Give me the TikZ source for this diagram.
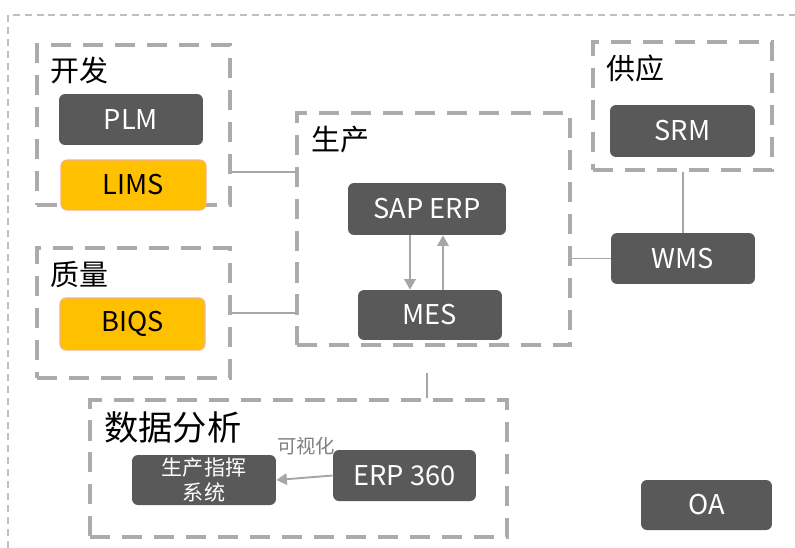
\documentclass[tikz,border=0pt]{standalone}
\usepackage{fontspec}
\setmainfont{Noto Sans CJK SC}
\usetikzlibrary{arrows.meta}
\definecolor{boxgray}{HTML}{595959}
\definecolor{boxyellow}{HTML}{FFC000}
\definecolor{boxedge}{HTML}{F4B183}
\definecolor{groupgray}{HTML}{AEAAAA}
\definecolor{linkgray}{HTML}{A6A6A6}
\definecolor{framegray}{HTML}{BFBFBF}
\definecolor{notegray}{HTML}{7F7F7F}
\begin{document}
\begin{tikzpicture}[x=0.02cm, y=0.02cm]
	\tikzstyle{every node}+=[inner sep=0pt]
	\tikzstyle{sysbox}=[rounded corners=3.4pt, fill=boxgray, text=white, font=\fontsize{15.5}{18}\selectfont]
	\tikzstyle{hotbox}=[rounded corners=3.4pt, fill=boxyellow, draw=boxedge, line width=0.6pt, font=\fontsize{15.5}{18}\selectfont]
	\tikzstyle{group}=[draw=groupgray, line width=2.3pt, dash pattern=on 11.4pt off 6.8pt]
	\tikzstyle{grouplabel}=[anchor=west, font=\fontsize{16.5}{19}\selectfont]
	\tikzstyle{link}=[draw=linkgray, line width=1.1pt]
	\tikzstyle{flow}=[link, -{Triangle[length=6pt, width=6.5pt]}]
	\useasboundingbox (0,0) rectangle (795,-548);
	\draw [framegray, line width=0.85pt, dash pattern=on 4pt off 2.8pt] (8,-548) -- (8,-15) -- (795,-15);
	\node [group, minimum width=3.86cm, minimum height=3.2cm] (dev) at (133.5,-125) {};
	\node [grouplabel] (devlabel) at (50,-70) {开发};
	\node [sysbox, minimum width=2.88cm, minimum height=1.02cm] (plm) at (131,-119.5) {PLM};
	\node [hotbox, minimum width=2.9cm, minimum height=1cm] (lims) at (133.5,-185) {LIMS};
	\node [group, minimum width=3.86cm, minimum height=2.6cm] (qual) at (133.5,-313) {};
	\node [grouplabel] (quallabel) at (50,-275) {质量};
	\node [hotbox, minimum width=2.9cm, minimum height=1.04cm] (biqs) at (132.5,-324) {BIQS};
	\node [group, minimum width=5.46cm, minimum height=4.64cm] (prod) at (433.5,-229) {};
	\node [grouplabel] (prodlabel) at (311,-140) {生产};
	\node [sysbox, minimum width=3.16cm, minimum height=1.04cm] (saperp) at (427,-209) {SAP ERP};
	\node [sysbox, minimum width=2.88cm, minimum height=1cm] (mes) at (430,-315) {MES};
	\node [group, minimum width=3.58cm, minimum height=2.56cm] (supp) at (682.5,-106) {};
	\node [grouplabel] (supplabel) at (606,-68) {供应};
	\node [sysbox, minimum width=2.9cm, minimum height=1.04cm] (srm) at (682.5,-131) {SRM};
	\node [sysbox, minimum width=2.88cm, minimum height=1.02cm] (wms) at (683,-258.5) {WMS};
	\node [group, minimum width=8.34cm, minimum height=2.74cm] (data) at (298.5,-468.5) {};
	\node [grouplabel, font=\fontsize{19.5}{23}\selectfont] (datalabel) at (104,-428) {数据分析};
	\node [sysbox, minimum width=2.88cm, minimum height=1cm, align=center, font=\fontsize{12}{14}\selectfont] (cmd) at (204,-480) {生产指挥\\系统};
	\node [sysbox, minimum width=2.86cm, minimum height=1.02cm] (erp) at (404.5,-475.5) {ERP 360};
	\node [text=notegray, font=\fontsize{11}{13}\selectfont] (vislabel) at (306,-446) {可视化};
	\node [sysbox, minimum width=2.62cm, minimum height=1cm] (oa) at (706.5,-505) {OA};
	\draw [link] (dev.east |- 0,-172) -- (prod.west |- 0,-172);
	\draw [link] (qual.east |- 0,-313) -- (prod.west |- 0,-313);
	\draw [link] (wms.west) -- (wms.west -| prod.east);
	\draw [link] (wms.north |- supp.south) -- (wms.north);
	\draw [flow] (saperp.south -| 410,0) -- (mes.north -| 410,0);
	\draw [flow] (mes.north -| 443,0) -- (saperp.south -| 443,0);
	\draw [link, shorten <=0.52cm] (prod.south -| 427,0) -- (data.north -| 427,0);
	\draw [flow] (erp.west) -- (cmd.east);
\end{tikzpicture}
\end{document}
